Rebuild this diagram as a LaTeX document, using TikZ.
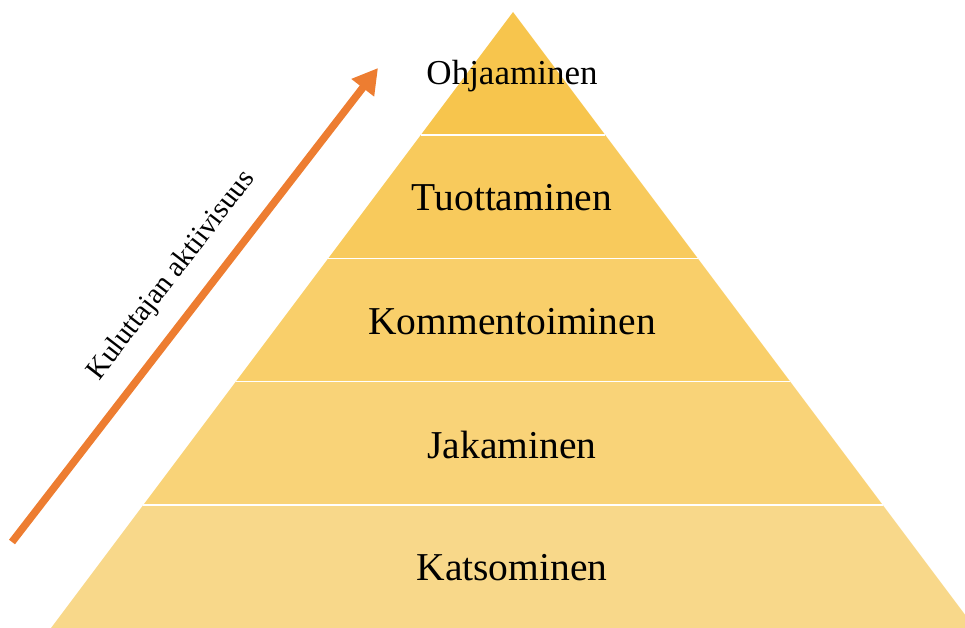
\documentclass[tikz,border=0pt]{standalone}
\usepackage{fontspec}
\setmainfont{Liberation Serif}
\usetikzlibrary{calc,arrows.meta}
\definecolor{bandA}{HTML}{F7C54D}
\definecolor{bandB}{HTML}{F8CA5C}
\definecolor{bandC}{HTML}{F9CF6A}
\definecolor{bandD}{HTML}{F9D378}
\definecolor{bandE}{HTML}{F8D88A}
\definecolor{boostorange}{HTML}{ED7D31}
\begin{document}
\begin{tikzpicture}[
  x=1pt, y=1pt,
  level/.style={font=\fontsize{39.5}{42}\selectfont, inner sep=0pt},
  boost/.style={draw=boostorange, line width=7.5pt, -{Triangle[length=25pt,width=27pt]}}
]
\clip (0,0) rectangle (965,628);
\coordinate (apex) at (513,616);
\coordinate (bl) at (51,0);
\coordinate (br) at (975,0);

% Layers
\foreach \i/\c in {1/bandA,2/bandB,3/bandC,4/bandD,5/bandE}
  \fill[\c] ($(apex)!{(\i-1)/5}!(bl)$) -- ($(apex)!{\i/5}!(bl)$)
    -- ($(apex)!{\i/5}!(br)$) -- ($(apex)!{(\i-1)/5}!(br)$) -- cycle;
\foreach \i in {1,...,4}
  \draw[white, line width=1.6pt] ($(apex)!{\i/5}!(bl)$) -- ($(apex)!{\i/5}!(br)$);

\node[level, font=\fontsize{35}{38}\selectfont] (ohj) at (512,552) {Ohjaaminen};
\node[level] (tuo) at (512,430) {Tuottaminen};
\node[level] (kom) at (512,306) {Kommentoiminen};
\node[level] (jak) at (512,183) {Jakaminen};
\node[level] (kat) at (512,60) {Katsominen};

% Arrow
\coordinate (low) at (12,86);
\coordinate (high) at (378,560);
\draw[boost] (low) -- node[pos=0.515, sloped, above=16pt, font=\fontsize{29}{32}\selectfont] (act) {Kuluttajan aktiivisuus} (high);
\end{tikzpicture}
\end{document}
